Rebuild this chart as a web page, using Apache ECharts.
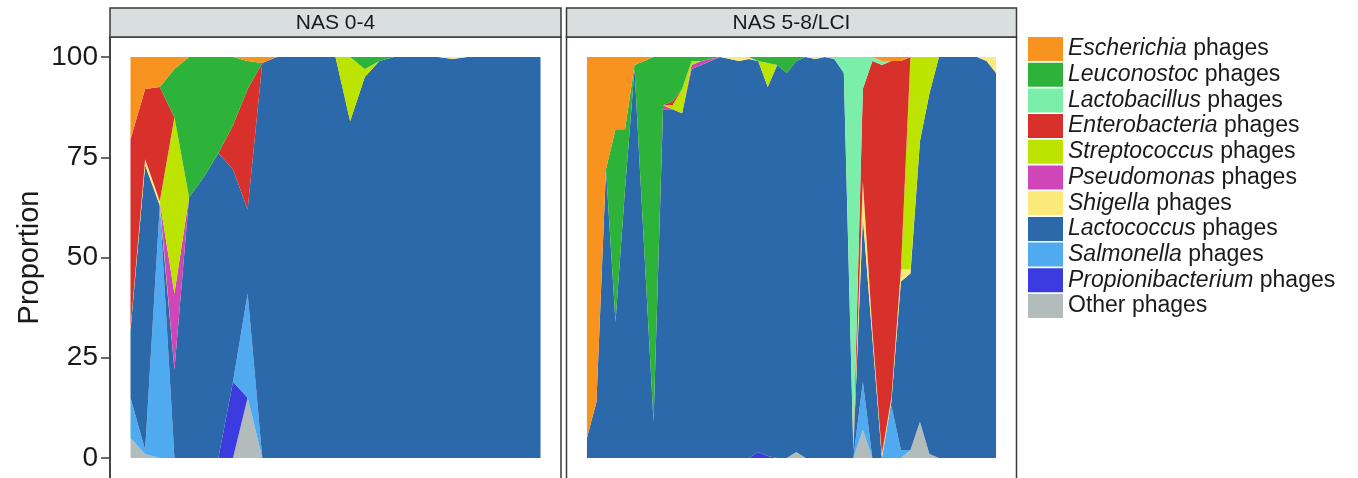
<!DOCTYPE html>
<html>
<head>
<meta charset="utf-8">
<script src="https://cdn.jsdelivr.net/npm/echarts@6/dist/echarts.min.js"></script>
<style>
  html, body { margin: 0; padding: 0; background: #fff; }
  #chart { width: 1358px; height: 478px; }
</style>
</head>
<body>
<div id="chart"></div>
<script>
const panels = ["NAS 0-4", "NAS 5-8/LCI"];
const yTicks = [0, 25, 50, 75, 100];
// legend order, top of the stack first
const genera = ["Escherichia", "Leuconostoc", "Lactobacillus", "Enterobacteria", "Streptococcus",
  "Pseudomonas", "Shigella", "Lactococcus", "Salmonella", "Propionibacterium", "Other"];

// NAS 0-4 (29 samples), % of reads
const a_other = [5, 1, 0, 0, 0, 0, 0, 0, 15, 0, 0, 0, 0, 0, 0, 0, 0, 0, 0, 0, 0, 0, 0, 0, 0, 0, 0, 0, 0];
const a_propioni = [0, 0, 0, 0, 0, 0, 0, 19, 0, 0, 0, 0, 0, 0, 0, 0, 0, 0, 0, 0, 0, 0, 0, 0, 0, 0, 0, 0, 0];
const a_salmonella = [10, 1, 63, 0, 0, 0, 0, 0, 26, 0, 0, 0, 0, 0, 0, 0, 0, 0, 0, 0, 0, 0, 0, 0, 0, 0, 0, 0, 0];
const a_lactococcus = [17, 71, 0, 22, 65, 70, 76, 53, 21, 98.5, 100, 100, 100, 100, 100, 84, 95, 99, 100, 100, 100, 100, 99.5, 100, 100, 100, 100, 100, 100];
const a_shigella = [0.5, 1.5, 1, 0, 0, 0, 0, 0, 0, 0, 0, 0, 0, 0, 0, 0, 0, 0, 0, 0, 0, 0, 0.5, 0, 0, 0, 0, 0, 0];
const a_pseudomonas = [0, 0, 0, 19, 0, 0, 0, 0, 0, 0, 0, 0, 0, 0, 0, 0, 0, 0, 0, 0, 0, 0, 0, 0, 0, 0, 0, 0, 0];
const a_strepto = [0, 0, 0, 44, 0, 0, 0, 0, 0, 0, 0, 0, 0, 0, 0, 16, 2, 0, 0, 0, 0, 0, 0, 0, 0, 0, 0, 0, 0];
const a_entero = [47, 17.5, 28.5, 0, 0, 0, 0, 11, 30, 0, 0, 0, 0, 0, 0, 0, 0, 0, 0, 0, 0, 0, 0, 0, 0, 0, 0, 0, 0];
const a_lactobac = [0, 0, 0, 0, 0, 0, 0, 0, 0, 0, 0, 0, 0, 0, 0, 0, 0, 0, 0, 0, 0, 0, 0, 0, 0, 0, 0, 0, 0];
const a_leucon = [0, 0, 0, 12, 35, 30, 24, 17, 7, 0, 0, 0, 0, 0, 0, 0, 3, 1, 0, 0, 0, 0, 0, 0, 0, 0, 0, 0, 0];
const a_escher = [20.5, 8, 7.5, 3, 0, 0, 0, 0, 1, 1.5, 0, 0, 0, 0, 0, 0, 0, 0, 0, 0, 0, 0, 0, 0, 0, 0, 0, 0, 0];

// NAS 5-8/LCI (44 samples)
const b_other = [0, 0, 0, 0, 0, 0, 0, 0, 0, 0, 0, 0, 0, 0, 0, 0, 0, 0, 0, 0, 0, 0, 1.5, 0, 0, 0, 0, 0, 0, 7, 0, 0, 0, 0, 2, 9, 1, 0, 0, 0, 0, 0, 0, 0];
const b_propioni = [0, 0, 0, 0, 0, 0, 0, 0, 0, 0, 0, 0, 0, 0, 0, 0, 0, 0, 1.5, 0.5, 0, 0, 0, 0, 0, 0, 0, 0, 0, 0, 0, 0, 0, 0, 0, 0, 0, 0, 0, 0, 0, 0, 0, 0];
const b_salmonella = [0, 0, 0, 0, 0, 0, 0, 0, 0, 0, 0, 0, 0, 0, 0, 0, 0, 0, 0, 0, 0, 0, 0, 0, 0, 0, 0, 0, 0, 12, 0, 0, 13, 2, 0, 0, 0, 0, 0, 0, 0, 0, 0, 0];
const b_lactococcus = [5, 14, 72, 34, 67, 97, 53, 9, 87, 87, 86, 97, 98, 99, 100, 99.5, 99, 99.5, 97.5, 92, 98, 96, 97.5, 100, 99.5, 100, 99.5, 96, 2, 41, 30, 0, 1, 42, 44, 70, 90, 100, 100, 100, 100, 100, 99, 96];
const b_shigella = [0, 0, 0, 0, 0, 0, 0, 0, 0, 0, 0, 0, 0, 0, 0, 0.5, 1, 0.5, 0, 0, 0, 0, 0, 0, 0.5, 0, 0, 0, 0, 9, 2, 1, 1, 3, 1, 0, 0, 0, 0, 0, 0, 0, 1, 4];
const b_pseudomonas = [0, 0, 0, 0, 0, 0, 0, 0, 1, 0, 0, 1, 1, 0.5, 0, 0, 0, 0, 0, 0, 0, 0, 0, 0, 0, 0, 0, 0, 0, 0, 0, 0, 0, 0, 0, 0, 0, 0, 0, 0, 0, 0, 0, 0];
const b_strepto = [0, 0, 0, 0, 0, 0, 0, 0, 0, 1, 6, 1, 0, 0, 0, 0, 0, 0, 0, 6, 0, 0, 0, 0, 0, 0, 0, 0, 0, 0, 0, 0, 0, 0, 53, 21, 9, 0, 0, 0, 0, 0, 0, 0];
const b_entero = [0, 0, 0, 0, 0, 0, 0, 0, 0, 1, 0, 0, 0, 0, 0, 0, 0, 0, 0, 0, 0, 0, 0, 0, 0, 0, 0, 0, 0, 23, 67, 97, 84, 52, 0, 0, 0, 0, 0, 0, 0, 0, 0, 0];
const b_lactobac = [0, 0, 0, 0, 0, 0, 0, 0, 0, 0, 0, 0, 0, 0, 0, 0, 0, 0, 0, 0, 0, 0, 0, 0, 0, 0, 0.5, 4, 98, 8, 1, 1, 0, 0, 0, 0, 0, 0, 0, 0, 0, 0, 0, 0];
const b_leucon = [0, 0, 0, 48, 15, 1, 46, 91, 12, 11, 8, 1, 1, 0.5, 0, 0, 0, 0, 1, 1.5, 2, 4, 1, 0, 0, 0, 0, 0, 0, 0, 0, 0, 0, 0, 0, 0, 0, 0, 0, 0, 0, 0, 0, 0];
const b_escher = [95, 86, 28, 18, 18, 2, 1, 0, 0, 0, 0, 0, 0, 0, 0, 0, 0, 0, 0, 0, 0, 0, 0, 0, 0, 0, 0, 0, 0, 0, 0, 1, 1, 1, 0, 0, 0, 0, 0, 0, 0, 0, 0, 0];

const panelData = [
  { Other: a_other, Propionibacterium: a_propioni, Salmonella: a_salmonella, Lactococcus: a_lactococcus,
    Shigella: a_shigella, Pseudomonas: a_pseudomonas, Streptococcus: a_strepto, Enterobacteria: a_entero,
    Lactobacillus: a_lactobac, Leuconostoc: a_leucon, Escherichia: a_escher },
  { Other: b_other, Propionibacterium: b_propioni, Salmonella: b_salmonella, Lactococcus: b_lactococcus,
    Shigella: b_shigella, Pseudomonas: b_pseudomonas, Streptococcus: b_strepto, Enterobacteria: b_entero,
    Lactobacillus: b_lactobac, Leuconostoc: b_leucon, Escherichia: b_escher },
];

const colors = {
  Escherichia: "#f7931e",
  Leuconostoc: "#2db23a",
  Lactobacillus: "#7beeaa",
  Enterobacteria: "#d8302b",
  Streptococcus: "#bde400",
  Pseudomonas: "#cf46b8",
  Shigella: "#fbe97a",
  Lactococcus: "#2c69ab",
  Salmonella: "#4faaf0",
  Propionibacterium: "#3c3be0",
  Other: "#b2bcbb",
};

const font = "Liberation Sans, Arial, sans-serif";
// panel frames (ggplot keeps 5% padding round the data)
const frames = [
  { left: 110, width: 451 },
  { left: 566.5, width: 450 },
];
const stripTop = 8;
const panelTop = 37;
const panelHeight = 443;

const chart = echarts.init(document.getElementById("chart"));

const series = [];
panelData.forEach((d, p) => {
  // ggplot stacks the first legend level on top, so draw bottom-up
  genera.slice().reverse().forEach((g) => {
    series.push({
      type: "line",
      name: g,
      xAxisIndex: p,
      yAxisIndex: p,
      stack: "panel" + p,
      stackStrategy: "all",
      data: d[g],
      symbol: "none",
      lineStyle: { width: 0 },
      itemStyle: { color: colors[g] },
      areaStyle: { color: colors[g], opacity: 1 },
      silent: true,
    });
  });
});

chart.setOption({
  animation: false,
  backgroundColor: "#fff",
  grid: frames.map((f) => {
    const pad = f.width / 22;
    return { left: f.left + pad, width: f.width - 2 * pad, top: panelTop, height: panelHeight, show: false };
  }),
  xAxis: panelData.map((d, p) => ({
    gridIndex: p,
    type: "category",
    boundaryGap: false,
    data: d.Lactococcus.map((v, i) => String(i + 1)),
    show: false,
  })),
  yAxis: [0, 1].map((p) => ({
    gridIndex: p,
    type: "value",
    min: -5,
    max: 105,
    offset: frames[p].width / 22,
    splitLine: { show: false },
    axisLine: { show: p === 0, lineStyle: { color: "#3a3a3a", width: 1.5 } },
    axisTick: { show: p === 0, length: 9, customValues: yTicks, lineStyle: { color: "#3a3a3a", width: 1.5 } },
    axisLabel: {
      show: p === 0,
      customValues: yTicks,
      fontSize: 28,
      fontFamily: font,
      color: "#1a1a1a",
      margin: 12,
    },
    name: p === 0 ? "Proportion" : "",
    nameLocation: "middle",
    nameGap: 66,
    nameTextStyle: { fontSize: 29, fontFamily: font, color: "#1a1a1a" },
  })),
  legend: {
    data: genera,
    orient: "vertical",
    left: 1028,
    top: panelTop,
    padding: 0,
    icon: "rect",
    itemWidth: 35,
    itemHeight: 24,
    itemGap: 1.7,
    selectedMode: false,
    formatter: (name) => (name === "Other" ? "Other phages" : "{i|" + name + "} phages"),
    textStyle: {
      fontSize: 23,
      fontFamily: font,
      color: "#1a1a1a",
      rich: { i: { fontSize: 23, fontFamily: font, fontStyle: "italic", color: "#1a1a1a" } },
    },
  },
  graphic: frames.map((f, p) => ({
    type: "group",
    x: f.left,
    y: stripTop,
    children: [
      {
        type: "rect",
        shape: { x: 0, y: panelTop - stripTop, width: f.width, height: panelHeight },
        style: { fill: "none", stroke: "#3a3a3a", lineWidth: 1.5 },
      },
      {
        type: "rect",
        shape: { x: 0, y: 0, width: f.width, height: panelTop - stripTop },
        style: { fill: "#d9dede", stroke: "#3a3a3a", lineWidth: 1.5 },
      },
      {
        type: "text",
        x: f.width / 2,
        y: (panelTop - stripTop) / 2 + 1,
        style: {
          text: panels[p],
          fontSize: 21,
          fontFamily: font,
          fill: "#1a1a1a",
          align: "center",
          verticalAlign: "middle",
        },
      },
    ],
  })),
  series: series,
});
</script>
</body>
</html>
